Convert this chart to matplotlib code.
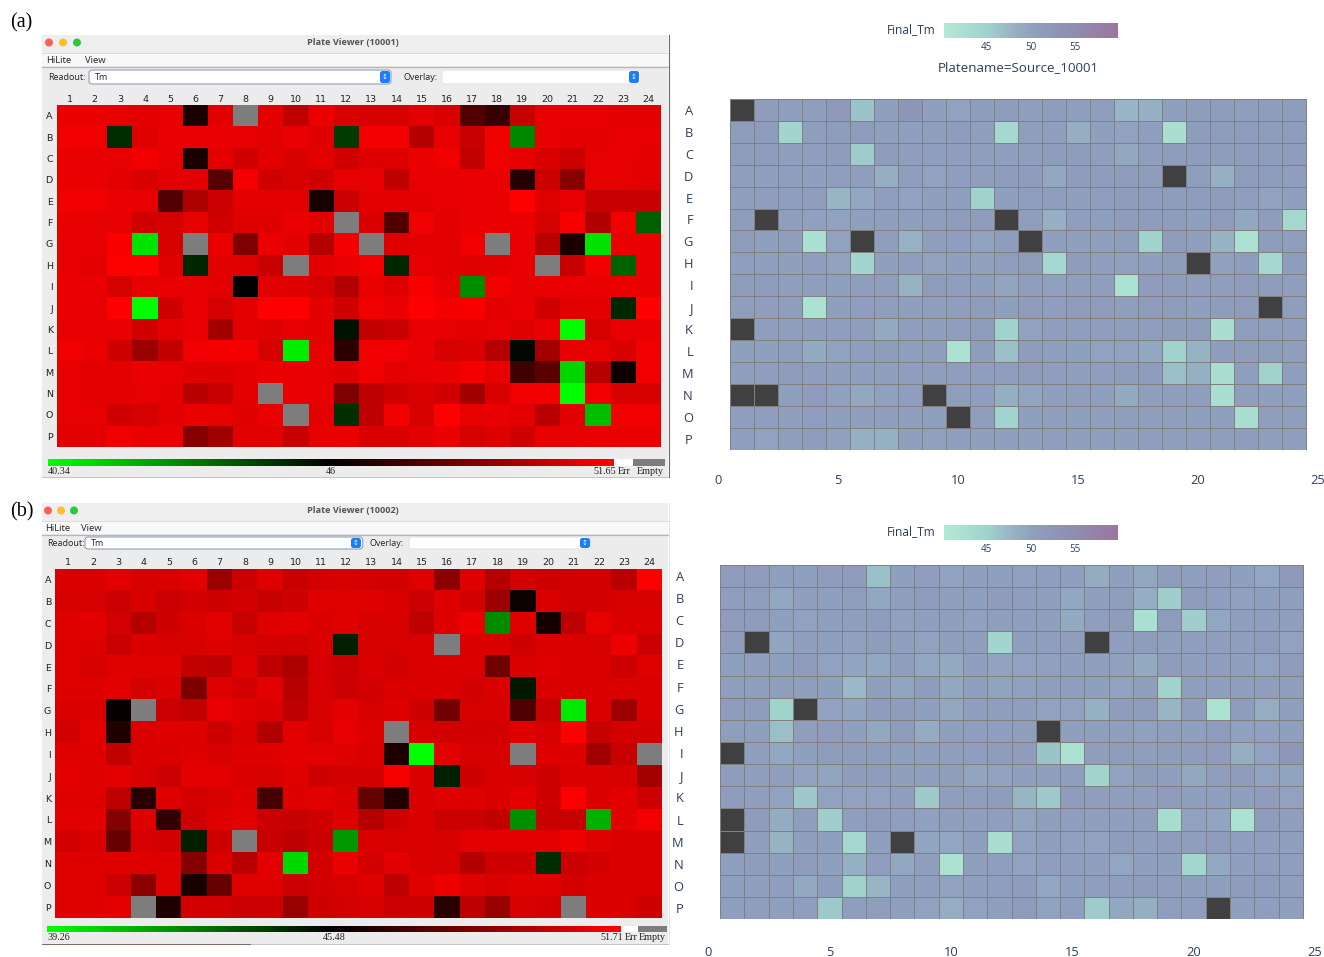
import numpy as np
import matplotlib
matplotlib.use('Agg')
import matplotlib.pyplot as plt
from matplotlib.colors import LinearSegmentedColormap, TwoSlopeNorm, Normalize
from matplotlib.patches import Rectangle, Circle, FancyBboxPatch

W, H = 1324, 957
n = float('nan')

row_names = list('ABCDEFGHIJKLMNOP')
col_names = list(range(1, 25))
side_ticks = [0, 5, 10, 15, 20, 25]
bar_ticks = [45, 50, 55]

# screenshot plate 10001
viewer_a = [
    [51.2,51.2,51.1,51.0,51.1,46.6,51.0,n,51.0,50.2,51.2,50.8,50.7,50.7,51.0,50.8,47.8,47.2,50.4,51.1,51.1,51.1,51.0,51.0],
    [51.3,51.3,45.0,50.9,51.2,51.2,51.2,51.1,51.0,51.2,50.9,44.7,51.4,51.4,50.0,51.1,50.4,51.3,43.0,51.1,51.0,51.0,51.1,51.1],
    [51.2,51.1,51.1,51.3,51.1,46.6,51.0,50.6,51.0,50.8,51.0,50.6,50.9,50.9,51.2,51.3,50.3,51.3,51.1,50.8,50.5,51.1,51.1,51.0],
    [51.2,51.2,51.0,50.8,51.0,51.0,47.9,51.4,50.6,50.7,50.6,51.1,51.1,50.2,51.1,51.1,51.2,51.2,46.8,50.5,49.0,51.1,51.1,51.0],
    [51.3,51.3,51.2,51.1,47.8,49.8,50.5,51.0,51.0,51.0,46.5,50.5,51.0,51.0,51.0,51.1,51.2,51.2,51.6,50.9,51.1,50.4,50.4,50.4],
    [51.2,51.1,51.1,50.6,50.7,51.1,50.6,50.9,50.9,51.2,51.0,n,50.8,47.8,51.3,51.0,51.2,51.2,51.2,50.7,51.5,49.9,51.3,43.9],
    [51.1,51.1,51.5,41.0,50.7,n,51.2,48.8,51.2,51.0,50.0,51.4,n,50.9,51.0,51.0,51.3,n,51.2,50.1,46.6,41.0,51.2,51.2],
    [51.1,51.0,51.6,51.6,50.9,45.1,51.0,50.9,50.4,n,51.0,51.2,51.3,45.1,51.1,51.0,50.9,51.0,51.2,n,50.4,51.3,43.8,51.2],
    [51.2,51.2,50.7,51.1,51.2,51.1,51.0,46.0,51.0,50.9,50.7,50.0,51.2,50.9,51.5,51.1,42.9,51.4,51.1,51.2,51.2,51.2,51.2,51.1],
    [51.2,51.1,51.6,40.4,50.6,51.2,50.7,51.0,51.6,51.6,51.0,50.6,51.3,51.2,51.6,51.4,51.5,51.0,51.2,50.6,51.0,51.0,45.1,51.6],
    [51.1,51.1,51.2,50.6,51.0,51.2,49.6,51.0,50.9,51.1,51.0,45.6,50.3,50.4,51.1,51.1,51.0,51.1,50.9,51.2,40.4,50.7,51.1,51.2],
    [51.3,51.2,50.6,49.4,50.3,51.3,51.4,51.4,50.7,40.7,51.1,47.0,51.3,51.3,51.2,50.7,50.8,50.0,45.8,49.6,51.1,51.1,50.8,51.3],
    [51.1,51.0,51.0,51.2,51.1,50.9,50.9,51.0,51.2,51.2,51.1,50.9,51.3,51.0,51.1,51.2,51.4,51.1,47.4,48.0,41.3,50.1,46.3,51.3],
    [51.1,51.0,51.0,51.1,51.0,50.1,50.4,51.0,n,51.2,51.1,48.8,50.2,50.6,50.8,50.6,49.6,50.8,51.3,51.3,40.4,51.3,50.8,50.7],
    [51.1,51.1,50.6,50.7,51.0,51.2,51.1,50.9,51.2,n,51.0,44.9,50.2,51.3,50.7,51.6,51.1,51.2,51.0,50.1,51.0,41.8,51.3,51.3],
    [51.0,51.0,51.3,51.2,51.2,49.0,49.5,51.0,51.0,50.4,51.1,51.2,50.8,50.8,51.0,51.2,50.7,50.9,50.6,51.1,51.1,51.2,51.2,51.2],
]

# screenshot plate 10002
viewer_b = [
    [50.8,50.8,51.0,50.7,50.8,51.0,49.2,50.4,50.9,50.3,50.6,50.7,50.6,50.6,50.9,48.9,50.9,49.9,50.6,50.5,50.6,50.6,50.0,51.7],
    [50.7,50.7,50.4,50.8,50.4,50.6,50.5,50.6,50.3,50.5,50.9,50.9,50.9,50.8,50.4,50.9,50.6,49.3,45.8,50.8,50.6,50.6,50.7,50.7],
    [50.9,51.0,50.6,49.9,50.5,50.8,51.0,50.3,50.9,51.0,50.8,50.9,50.7,50.7,50.1,50.9,51.3,42.1,50.9,46.0,50.1,51.1,50.8,50.8],
    [50.9,50.9,50.3,50.8,50.7,50.7,50.9,50.7,50.6,50.6,50.8,44.7,50.7,50.7,50.8,n,50.8,50.8,50.5,50.8,50.8,50.7,51.3,50.4],
    [50.9,50.7,50.9,50.9,50.9,50.2,50.1,50.9,50.1,49.7,50.7,50.4,50.8,50.6,50.8,50.8,50.8,48.2,50.8,50.9,50.8,50.8,50.4,50.9],
    [50.9,50.9,51.0,50.6,50.8,48.5,50.9,50.6,51.0,50.0,50.7,50.4,50.6,50.8,50.8,50.8,50.6,50.8,44.9,50.8,50.8,50.8,50.8,50.8],
    [50.8,50.8,45.7,n,50.4,50.2,51.2,50.9,50.8,50.1,50.7,51.0,50.7,50.9,50.5,48.3,50.7,50.7,47.4,50.3,39.8,50.8,49.3,50.8],
    [50.6,51.0,46.3,50.8,50.9,50.9,50.4,50.8,49.8,51.0,50.7,51.1,50.9,n,50.7,50.6,50.6,50.6,50.9,50.7,51.7,50.3,50.6,50.6],
    [50.9,50.9,50.2,50.8,50.8,50.9,50.7,50.9,50.9,51.0,51.0,50.9,50.8,46.2,39.3,51.0,50.7,50.7,n,50.9,50.9,49.4,50.3,n],
    [51.0,50.9,51.0,50.7,50.4,51.0,51.0,50.8,50.7,50.9,50.5,50.6,50.6,51.5,50.8,44.7,50.5,50.8,50.7,50.5,50.8,50.8,50.7,49.5],
    [50.9,50.9,50.1,46.5,50.9,50.6,50.7,50.9,47.2,50.9,51.0,50.8,47.9,46.3,50.8,50.9,50.9,50.8,51.0,50.5,51.6,50.8,51.0,50.5],
    [51.0,51.0,48.7,50.9,46.7,50.5,50.9,51.0,50.4,50.3,50.5,50.9,49.9,50.5,50.8,50.4,50.4,50.2,42.0,50.3,50.3,41.2,51.0,51.4],
    [50.6,50.8,48.0,50.7,50.6,44.7,50.5,n,50.3,50.1,50.4,41.8,50.8,50.7,50.8,50.7,51.0,51.0,51.0,51.0,51.3,50.9,50.8,50.8],
    [50.9,50.9,50.9,50.9,50.9,48.7,50.8,50.0,51.0,40.2,50.6,51.2,50.6,51.0,50.8,50.7,49.9,50.5,50.5,44.4,50.4,50.6,50.8,50.8],
    [50.9,50.9,50.4,48.9,50.9,46.1,48.0,50.9,50.9,50.4,50.6,50.7,50.9,50.1,50.9,51.3,50.9,50.8,50.9,50.9,50.6,50.8,50.8,50.8],
    [50.9,50.9,51.0,n,46.3,50.6,50.6,50.4,50.4,49.2,50.5,50.6,50.7,50.4,50.5,46.5,50.1,49.2,50.7,50.6,n,50.8,50.8,50.5],
]

# right hand heatmaps, Final_Tm
source_a = [
    [n,51.2,50.8,50.8,51.6,46.5,50.3,53.0,50.5,50.0,51.0,51.0,50.7,51.0,50.7,50.7,47.8,48.2,50.5,51.0,51.0,50.7,51.0,51.0],
    [51.0,51.0,44.5,50.7,51.0,51.0,50.5,50.3,50.5,51.0,50.8,43.8,50.8,50.8,48.6,50.5,50.0,50.6,42.8,51.0,51.0,51.0,51.0,51.0],
    [51.0,51.0,50.8,50.7,51.3,45.8,51.3,50.7,50.6,50.8,50.8,50.5,50.7,51.0,51.0,50.8,49.5,50.8,51.0,51.0,51.0,51.0,51.0,51.5],
    [50.8,50.5,50.7,50.5,50.8,50.8,48.6,50.6,50.1,50.6,50.8,51.0,51.3,49.5,51.2,51.0,51.2,51.0,n,50.7,48.3,51.0,51.0,50.7],
    [50.8,50.8,50.6,50.8,47.8,49.5,50.6,50.0,50.3,50.5,45.0,50.5,50.6,50.7,50.3,50.6,51.2,51.0,51.0,51.0,51.1,50.7,50.0,50.3],
    [51.0,n,50.5,50.2,50.0,50.3,50.3,50.4,50.7,51.3,51.2,n,50.7,48.3,50.6,50.5,51.3,51.0,51.0,50.5,51.5,49.5,51.2,44.2],
    [51.0,50.3,50.7,42.5,50.0,n,50.7,48.0,50.8,50.6,50.0,51.0,n,50.5,50.3,50.5,50.8,45.0,51.0,50.5,48.0,42.0,51.0,50.7],
    [50.6,50.5,50.5,50.7,50.0,44.5,50.4,50.6,50.0,50.5,50.2,50.7,51.5,44.2,51.2,50.6,50.2,50.5,51.0,n,50.2,51.0,44.2,51.0],
    [51.0,51.0,50.8,50.7,50.5,50.7,50.7,48.0,51.5,50.7,50.3,49.7,50.7,50.2,50.8,50.7,42.3,51.2,51.0,50.7,50.7,51.5,51.0,50.7],
    [50.6,50.7,50.7,42.0,50.3,50.6,50.8,50.4,50.7,50.7,51.0,50.5,51.3,50.8,51.1,51.0,50.7,51.0,51.0,50.5,51.0,51.0,n,50.8],
    [n,50.8,50.8,50.7,50.6,50.7,49.0,50.6,50.5,50.7,51.0,45.0,50.0,50.6,50.6,50.7,50.8,50.8,51.0,51.0,42.8,50.7,50.7,50.8],
    [50.5,50.5,50.6,49.0,50.0,50.6,51.0,50.7,50.8,42.3,51.0,47.0,51.2,50.8,50.5,50.0,50.0,49.5,45.0,48.0,51.0,51.0,51.0,50.7],
    [50.7,50.7,51.2,50.7,50.5,50.5,50.5,50.6,50.7,50.6,50.6,50.7,51.4,50.7,50.5,50.7,51.0,51.0,47.0,48.3,43.0,50.7,45.3,50.7],
    [n,n,50.4,51.2,50.2,49.5,50.2,50.6,n,50.7,50.6,48.5,49.7,50.5,50.8,50.5,49.0,50.4,50.8,50.7,42.8,50.8,50.3,50.5],
    [50.6,50.6,50.5,50.6,50.4,50.5,50.4,50.3,50.5,n,50.7,44.8,50.3,50.4,50.4,50.5,50.8,50.7,50.7,50.5,50.5,43.0,50.7,50.7],
    [50.6,50.0,50.7,51.2,50.2,48.3,48.2,50.5,50.2,50.3,50.5,50.5,50.5,50.6,50.3,50.5,50.5,50.6,50.7,50.7,50.7,51.3,50.8,50.8],
]

source_b = [
    [51.5,51.5,50.5,50.3,51.3,51.5,46.8,50.5,50.6,50.0,50.4,50.5,50.2,50.6,50.5,48.8,50.3,49.5,51.0,50.5,50.7,50.5,49.6,51.7],
    [50.7,50.7,49.5,50.5,50.4,50.8,49.3,50.3,51.5,50.3,50.5,51.2,50.8,50.5,49.5,50.5,50.8,48.7,45.5,51.5,50.6,50.2,50.4,50.4],
    [51.2,51.3,50.4,50.0,50.3,50.3,51.0,50.2,50.3,50.5,50.2,50.4,50.5,50.5,49.1,50.6,51.3,42.5,51.5,45.5,49.6,50.5,50.4,50.4],
    [51.2,n,49.7,50.5,50.4,50.2,51.0,50.4,50.1,50.4,50.8,44.6,50.5,50.6,50.7,n,50.6,51.0,50.5,50.7,50.7,50.7,51.5,50.0],
    [50.3,50.7,50.5,51.2,50.0,49.7,49.5,50.3,49.3,49.0,50.3,49.9,50.0,50.2,50.4,50.5,50.2,49.0,51.0,50.5,50.7,50.5,50.0,51.4],
    [50.7,50.7,50.8,50.8,50.4,47.5,50.3,49.7,51.0,49.3,50.5,49.8,50.2,50.6,50.6,50.5,50.1,50.8,45.0,50.6,50.4,50.7,50.8,50.7],
    [50.9,51.0,45.0,n,50.1,49.7,51.0,51.2,50.3,49.5,50.3,50.7,50.4,50.1,50.0,48.3,51.0,51.0,47.8,50.7,42.3,50.9,48.7,50.4],
    [50.7,50.5,47.0,50.8,51.2,50.4,49.3,51.2,48.8,50.3,50.6,50.6,50.7,n,50.4,50.5,50.3,50.2,50.7,50.5,51.5,50.2,50.2,50.5],
    [n,50.5,49.6,50.3,51.0,51.2,51.0,50.5,50.3,50.4,50.6,51.0,51.2,46.5,42.2,50.7,51.0,50.8,51.0,51.2,51.4,48.5,50.0,52.5],
    [51.0,50.8,50.8,50.0,49.7,51.2,51.0,50.5,50.3,50.7,49.7,50.0,50.4,50.5,50.8,44.8,50.0,51.0,50.5,49.5,50.8,51.2,50.0,49.8],
    [51.0,50.7,50.0,46.2,50.0,50.0,50.0,50.6,46.0,50.8,50.8,51.0,47.7,46.0,51.2,50.8,50.8,50.8,51.3,50.3,50.5,50.4,51.3,50.0],
    [n,51.2,48.8,50.7,45.5,50.6,51.0,50.6,50.2,50.3,50.5,50.6,49.7,50.4,50.6,50.5,50.5,50.7,43.2,50.1,49.7,42.3,51.0,50.8],
    [n,50.8,48.0,50.5,50.5,44.0,50.5,n,49.7,49.6,50.4,43.0,50.1,50.5,50.2,50.1,51.0,50.7,51.3,50.7,51.5,50.6,50.7,50.5],
    [50.4,51.0,50.3,50.9,50.4,48.3,50.6,49.3,50.8,42.2,50.4,50.6,50.1,50.6,50.6,50.4,49.6,50.3,50.4,44.3,49.2,50.4,50.8,50.6],
    [50.5,50.5,50.6,49.2,51.0,45.3,47.8,50.5,50.5,50.1,50.5,50.6,51.2,49.6,50.4,50.6,50.6,51.1,50.7,50.5,50.5,51.3,50.9,50.7],
    [50.4,50.8,50.5,50.6,46.0,50.6,50.8,50.4,50.1,48.7,50.1,50.5,51.4,50.1,50.6,45.8,49.5,48.5,50.6,50.6,n,50.3,50.6,50.4],
]

# min, mid, max printed under the viewers
scale_a = [40.34, 46, 51.65]
scale_b = [39.26, 45.48, 51.71]
tm_range = [40.3, 59.8]

plate_cmap = LinearSegmentedColormap.from_list('gkr', ['#00ff00', '#000000', '#ff0000'])
plate_cmap.set_bad('#7d7d7d')
tm_cmap = LinearSegmentedColormap.from_list('tm', [
    (0.0, '#b2ebd4'), (0.25, '#a0d2cd'), (0.40, '#96b2c3'),
    (0.52, '#8f9fbe'), (0.75, '#8f8db2'), (1.0, '#9d76a0')])
tm_cmap.set_bad('#404040')

NAVY = '#2a3f5f'
SANS = 'Open Sans'
SERIF = 'Liberation Serif'

fig = plt.figure(figsize=(W / 100, H / 100), dpi=100)
fig.patch.set_facecolor('white')


def px_axes(x0, y0, x1, y1, **kw):
    # axes from pixel box, y counted from the top
    return fig.add_axes([x0 / W, 1 - y1 / H, (x1 - x0) / W, (y1 - y0) / H], **kw)


bg = px_axes(0, 0, W, H)
bg.set_xlim(0, W)
bg.set_ylim(H, 0)
bg.axis('off')


def box(x0, y0, x1, y1, color):
    bg.add_patch(Rectangle((x0, y0), x1 - x0, y1 - y0, fc=color, ec='none'))


def combo(x0, y0, x1, y1, btn, ring):
    bg.add_patch(FancyBboxPatch((x0, y0), x1 - x0, y1 - y0, boxstyle='round,pad=0,rounding_size=3',
                                fc='white', ec=ring, lw=0.8))
    bg.add_patch(FancyBboxPatch((btn - 5, y0 + 1), 10, y1 - y0 - 2, boxstyle='round,pad=0,rounding_size=2.5',
                                fc='#1a7dfa', ec='none'))
    bg.text(btn, (y0 + y1) / 2, '\u2195', color='white', fontsize=5, ha='center', va='center')


def viewer(values, scale, title, win, heat, bar, lights, menu, combos, label_y, right_edge, low_edge):
    x0, y0, x1, y1 = win
    box(x0, y0, x1, y1, '#ececec')
    box(x0, y0, x1, y0 + 17.5, '#eeeeee')
    box(x0, y0 + 17.5, x1, y0 + 31, '#f8f8f8')
    bg.plot([x0, x1], [y0 + 17.5, y0 + 17.5], color='#dddddd', lw=0.7)
    bg.plot([x0, x1], [y0 + 31.5, y0 + 31.5], color='#b5b5b5', lw=0.9)
    bg.plot([x1 + 0.5, x1 + 0.5], [y0, y1], color=right_edge, lw=0.8)
    bg.plot([x0, x1], [y1, y1], color='#c4c4c4', lw=0.7)
    bg.plot([x0, x0 + 208], [y1, y1], color=low_edge, lw=0.7)
    for lx, c in zip(lights, ['#fe5f57', '#febc2e', '#28c840']):
        bg.add_patch(Circle((lx, y0 + 7.5), 4, fc=c, ec='none'))
    bg.text((x0 + x1) / 2 - 2, y0 + 7.5, title, fontsize=6.6, weight='bold', color='#555555',
            family=SANS, ha='center', va='center')
    bg.text(menu[0], y0 + 25.5, 'HiLite', fontsize=6.8, family=SANS, color='#222222', va='center')
    bg.text(menu[1], y0 + 25.5, 'View', fontsize=6.8, family=SANS, color='#222222', va='center')
    r, o = combos
    cy = (r[1] + r[2]) / 2
    bg.text(menu[0] + 2, cy, 'Readout:', fontsize=6.5, family=SANS, color='#222222', va='center')
    combo(r[0], r[1], r[3], r[2], r[4], '#8e9fb8')
    bg.text(r[0] + 6, cy, 'Tm', fontsize=6.5, family=SANS, color='#222222', va='center')
    bg.text(o[0] - 39, cy, 'Overlay:', fontsize=6.5, family=SANS, color='#222222', va='center')
    combo(o[0], o[1], o[3], o[2], o[4], '#e4e4e4')

    norm = TwoSlopeNorm(vmin=scale[0], vcenter=scale[1], vmax=scale[2])
    ax = px_axes(*heat)
    ax.imshow(np.ma.masked_invalid(values), cmap=plate_cmap, norm=norm, aspect='auto', interpolation='nearest')
    ax.set_xticks(range(24), col_names)
    ax.set_yticks(range(16), row_names)
    ax.xaxis.tick_top()
    ax.tick_params(length=0, labelsize=6.8, colors='#222222', pad=1)
    ax.tick_params(axis='y', pad=3)
    for s in ax.spines.values():
        s.set_visible(False)

    bx0, bx1, bx2, bx3, by0, by1 = bar
    cb = px_axes(bx0, by0, bx1, by1)
    cb.imshow(np.linspace(scale[0], scale[2], 400)[None, :], cmap=plate_cmap, norm=norm, aspect='auto')
    cb.axis('off')
    box(bx1, by0, bx2, by1, 'white')
    box(bx2, by0, bx3, by1, '#7d7d7d')
    for txt, tx, ha in [(str(scale[0]), bx0, 'left'), (str(scale[1]), (bx0 + bx1) / 2, 'center'),
                        (str(scale[2]), bx1 + 2, 'right')]:
        bg.text(tx, label_y, txt, fontsize=7.3, family=SERIF, color='#222222', ha=ha, va='center')
    bg.text(bx1 + 4, label_y, 'Err', fontsize=7.3, family=SERIF, color='#222222', va='center')
    bg.text(bx3 - 1, label_y, 'Empty', fontsize=7.3, family=SERIF, color='#222222', ha='right', va='center')


def side_map(values, box_px, bar_y, tick_pad, label_pad, title=None, title_y=None):
    # axes runs 0..25 so the 0 and 25 tick labels sit clear of the cells
    ax = px_axes(*box_px, clip_on=False)
    edges_x = np.arange(25) + 0.5
    edges_y = np.arange(17) + 0.5
    norm = Normalize(tm_range[0], tm_range[1])
    ax.pcolormesh(edges_x, edges_y, np.ma.masked_invalid(values), cmap=tm_cmap, norm=norm,
                  edgecolors='#808080', linewidth=0.55)
    ax.set_xlim(0, 25)
    ax.set_ylim(16.5, 0.5)
    ax.set_xticks(side_ticks)
    ax.set_yticks(range(1, 17), row_names)
    ax.tick_params(length=0, colors=NAVY, labelsize=9.3)
    ax.tick_params(axis='x', pad=tick_pad)
    ax.tick_params(axis='y', pad=label_pad)
    for lab in ax.get_xticklabels() + ax.get_yticklabels():
        lab.set_family(SANS)
    for s in ax.spines.values():
        s.set_visible(False)

    cb = px_axes(944, bar_y, 1118, bar_y + 15)
    cb.imshow(np.linspace(tm_range[0], tm_range[1], 300)[None, :], cmap=tm_cmap, norm=norm, aspect='auto',
              extent=[tm_range[0], tm_range[1], 0, 1])
    cb.set_yticks([])
    cb.set_xticks(bar_ticks)
    cb.tick_params(length=0, colors=NAVY, labelsize=7, pad=3)
    for lab in cb.get_xticklabels():
        lab.set_family(SANS)
    for s in cb.spines.values():
        s.set_visible(False)
    bg.text(936, bar_y + 6.5, 'Final_Tm', fontsize=8.6, color=NAVY, family=SANS, ha='right', va='center')
    if title:
        bg.text(1018, title_y, title, fontsize=9.6, color=NAVY, family=SANS, ha='center', va='center')


bg.text(10, 23, '(a)', fontsize=14.5, family=SERIF, color='black', va='center')
bg.text(10, 512, '(b)', fontsize=14.5, family=SERIF, color='black', va='center')

viewer(viewer_a, scale_a, 'Plate Viewer (10001)', (42, 35, 668, 477), (57, 105.3, 660.7, 446.7),
       (48, 614, 633, 665, 459, 466), (49, 63, 77), (46, 85),
       ((89, 70, 84, 391, 385), (442, 70, 84, 641, 634)), 471.5, '#6f6a62', '#c4c4c4')
viewer(viewer_b, scale_b, 'Plate Viewer (10002)', (42, 503, 668, 944), (55.3, 568.7, 662, 918.3),
       (47, 621, 637.7, 667, 926, 932), (48, 61, 74), (45, 81),
       ((85, 537, 549, 362.7, 356), (409, 537, 549, 590.7, 585)), 938, '#e4e4e4', '#7a6a60')

side_map(source_a, (718, 99, 1318, 449.5), 23, 18, 18, 'Platename=Source_10001', 67.5)
side_map(source_b, (708, 564.7, 1315, 919.3), 525, 19, 17.5)

fig.savefig('out.png', dpi=100)
